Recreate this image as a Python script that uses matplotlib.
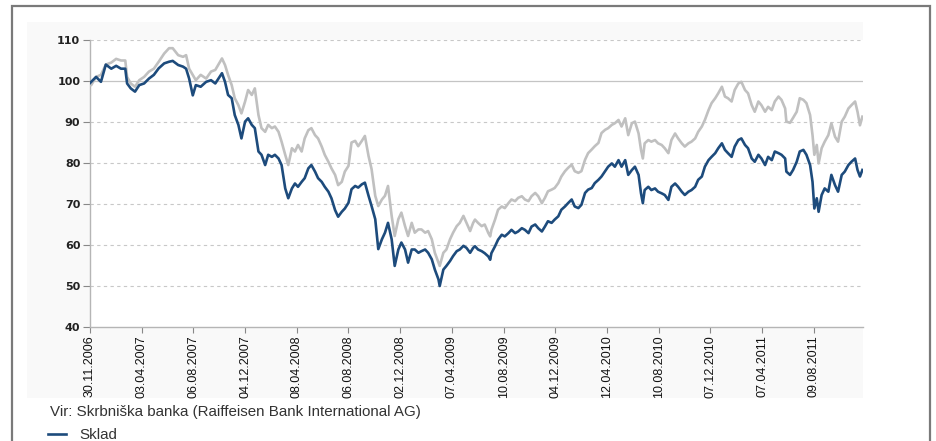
import matplotlib
matplotlib.use("Agg")
import matplotlib.pyplot as plt
from matplotlib.patches import Rectangle

plt.rcParams['font.family'] = ['Liberation Sans', 'DejaVu Sans']

# trading-day index of each observation (0 = 30.11.2006)
day = [0, 2, 10, 18, 26, 35, 43, 51, 58, 61, 67, 74, 81, 89, 97, 105, 113, 122, 130, 136,
       145, 153, 158, 163, 169, 174, 182, 191, 199,
       206, 217, 222, 227, 233, 238, 244, 249, 255, 260, 266, 271, 277, 282, 288, 293, 299,
       304, 310, 315, 321, 326, 332, 337, 342, 348, 353, 359, 364, 370, 375, 381, 386, 392,
       397, 403, 408, 414, 419,
       425, 430, 436, 441, 447, 452, 458, 463, 469, 474, 480, 485, 490, 496, 501, 507, 512,
       518, 523, 529, 534, 540, 545, 551, 556, 562, 567, 573, 575, 581, 586, 592, 597, 603,
       608, 614, 619, 625, 630,
       633, 638, 644, 649, 655, 658, 660, 666, 671, 677, 682, 688, 693, 699, 704, 710, 715,
       721, 726, 732, 737, 743, 748, 753, 759, 764, 770, 775, 781, 786, 792, 797, 803, 808,
       814, 819, 825, 830, 836, 841, 847,
       852, 858, 863, 869, 874, 880, 885, 891, 896, 902, 906, 909, 912, 918, 923, 929, 934,
       940, 945, 951, 956, 962, 967, 973, 978, 984, 989, 995, 1000, 1006, 1011, 1017, 1022,
       1028, 1033, 1039, 1044, 1049, 1055,
       1060, 1066, 1071, 1077, 1082, 1088, 1093, 1099, 1104, 1110, 1115, 1121, 1126, 1132,
       1137, 1143, 1145, 1151, 1156, 1162, 1167, 1173, 1178, 1184, 1188, 1191, 1195, 1198,
       1203, 1208, 1214, 1219, 1225, 1230, 1236, 1241, 1247, 1252, 1258, 1262, 1266, 1270]

# fund (Sklad)
fund = [99.5, 99.8, 101, 99.8, 104, 103, 103.7, 103, 103, 99.4, 98.2, 97.4, 99, 99.4, 100.6,
        101.5, 103.1, 104.3, 104.7, 104.9, 103.9, 103.5, 103, 100.6, 96.5, 99, 98.6, 99.8, 100.2,
        99.4, 101.9, 99.8, 96.6, 95.8, 91.7, 89.3, 86, 90.1, 90.9, 89.3, 88.5, 82.8, 82, 79.5,
        82, 81.5, 82, 81.1, 79.5, 73.8, 71.4, 73.8, 75, 74.2, 75.4, 76.3, 78.7, 79.5, 77.9,
        76.3, 75.4, 74.2, 73, 71.4, 68.5, 66.9, 68.1, 68.9,
        70.3, 73.6, 74.4, 74, 74.8, 75.2, 72, 69.5, 66.3, 59, 61.4, 63, 65.4, 61.4, 54.9, 58.9,
        60.6, 58.9, 55.7, 58.9, 58.9, 58.1, 58.5, 58.9, 58.1, 56.5, 54, 51.6, 50, 54, 54.9,
        56.1, 57.3, 58.5, 58.9, 59.8, 59.3, 58.1, 59.3,
        59.7, 58.9, 58.5, 58, 57.2, 56.4, 58, 59.7, 61.3, 62.5, 62.1, 62.9, 63.7, 62.9, 63.3,
        64.1, 63.7, 62.9, 64.5, 65, 64.1, 63.3, 64.5, 65.8, 65.4, 66.2, 67, 68.6, 69.4, 70.2,
        71.1, 69.4, 69, 69.8, 72.7, 73.5, 73.9, 75.1, 75.9, 76.7, 78,
        79.1, 79.9, 79.1, 80.7, 79.1, 80.7, 77.1, 78.3, 79.1, 77.1, 72.6, 70.2, 73.4, 74.2,
        73.4, 73.8, 73, 72.6, 72.2, 71, 74.2, 75, 74.2, 73, 72.2, 73, 73.4, 74.2, 75.9, 76.7,
        79.1, 80.7, 81.5, 82.4, 83.6, 84.8, 83.2, 82.4, 81.5,
        84, 85.6, 86, 84.4, 83.6, 81.1, 80.3, 82, 81.1, 79.5, 81.5, 80.7, 82.8, 82.4, 82, 81.1,
        77.9, 77.1, 78.3, 80.3, 82.8, 83.2, 82, 79.5, 75.4, 68.9, 71.4, 68.1, 72.2, 73.8, 73,
        77.1, 74.6, 73, 77.1, 77.9, 79.5, 80.3, 81.1, 78.3, 76.7, 78.3]

# benchmark (grey series)
bench = [99, 99, 101, 101.5, 104, 104.5, 105.4, 105, 105, 101, 99.4, 98.6, 100.2, 101, 102.3,
         103, 104.7, 106.7, 108, 108, 106.3, 105.9, 106.3, 103, 101.5, 100.2, 101.5, 100.6, 102.3,
         102.7, 105.5, 103.9, 101.5, 99, 95.8, 94.1, 92.1, 95, 97.8, 96.6, 98.2, 91.7, 88.5,
         87.6, 89.3, 88.5, 88.9, 87.6, 85.2, 82, 79.5, 83.6, 82.8, 84.4, 82.8, 86, 88, 88.5,
         86.8, 86, 84, 82, 80.3, 78.7, 77.1, 74.6, 75.4, 77.9,
         79.3, 85, 85.4, 84.1, 85.4, 86.6, 81.7, 78.5, 72, 69.5, 71.1, 72, 74.4, 67.1, 62.2,
         66.3, 67.9, 64.6, 62.2, 65.4, 63, 63.8, 63.8, 63, 63.4, 61.4, 58.1, 55.7, 54.9, 58.1,
         58.9, 61.4, 63, 64.6, 65.4, 67.1, 65.4, 63.4, 65.4,
         66.2, 65.4, 64.6, 65, 62.9, 62.1, 63.7, 66.2, 68.6, 69.4, 69, 70.2, 71.1, 70.7, 71.5,
         71.9, 71.1, 70.7, 71.9, 72.7, 71.9, 70.2, 71.5, 73.1, 73.5, 73.9, 75.1, 76.7, 78, 78.8,
         79.6, 78, 77.6, 78, 80.8, 82.4, 83.3, 84.1, 84.9, 87.3, 88.1,
         88.5, 89.3, 89.7, 90.5, 88.9, 90.9, 86.8, 89.7, 90.1, 87.2, 83.2, 81.1, 84.8, 85.6,
         85.2, 85.6, 84.8, 84.4, 83.6, 82.4, 85.6, 87.2, 86, 84.8, 84, 84.8, 85.2, 86, 87.6,
         88.9, 90.5, 92.9, 94.6, 95.8, 97, 98.6, 96.2, 95.8, 95,
         97.8, 99.4, 99.8, 97.8, 97, 94.1, 92.5, 95, 94.1, 92.5, 93.7, 92.9, 95, 96.2, 95.4,
         93.3, 90.1, 89.8, 91, 92.5, 95.8, 95.4, 94.6, 91.7, 86.8, 82, 84.4, 79.9, 83.6, 85.2,
         86.8, 89.7, 86.4, 85.2, 90.1, 91.3, 93.3, 94.1, 95, 92.5, 89.2, 91.3]

tick_days = [0, 85, 170, 255, 340, 425, 510, 595, 680, 765, 850, 935, 1020, 1105, 1190]
tick_labels = ['30.11.2006', '03.04.2007', '06.08.2007', '04.12.2007', '08.04.2008',
               '06.08.2008', '02.12.2008', '07.04.2009', '10.08.2009', '04.12.2009',
               '12.04.2010', '10.08.2010', '07.12.2010', '07.04.2011', '09.08.2011']
y_ticks = [40, 50, 60, 70, 80, 90, 100, 110]

W, H = 936, 441
fig = plt.figure(figsize=(W / 100, H / 100), dpi=100)
fig.patch.set_facecolor('white')

# outer frame and light panel
fig.patches.append(Rectangle((12 / W, -0.05), 918 / W, 1 - 6 / H + 0.05,
                             transform=fig.transFigure, facecolor='white',
                             edgecolor='#7a7a7a', linewidth=1.6, zorder=-2))
fig.patches.append(Rectangle((27 / W, 1 - 398 / H), (863 - 27) / W, (398 - 22) / H,
                             transform=fig.transFigure, facecolor='#f9f9f9',
                             edgecolor='none', zorder=-1))

ax = fig.add_axes([90 / W, 1 - 327 / H, (863 - 90) / W, (327 - 40) / H])
ax.set_zorder(2)
ax.set_facecolor('white')

ax.plot(day, bench, color='#c0c0c0', linewidth=1.9, solid_joinstyle='round', zorder=3)
fund_line, = ax.plot(day, fund, color='#1d4b7c', linewidth=1.9, solid_joinstyle='round',
                     zorder=4, label='Sklad')

ax.set_xlim(0, 1271)
ax.set_ylim(40, 110)
ax.set_yticks(y_ticks)
ax.set_yticklabels([str(v) for v in y_ticks], fontsize=8, fontweight='bold', color='#222222',
                   family='DejaVu Sans')
ax.set_xticks(tick_days)
ax.set_xticklabels(tick_labels, rotation=90, fontsize=9, color='#111111')

for v in y_ticks[1:]:
    if v == 100:
        ax.axhline(v, color='#c4c4c4', linewidth=0.9, zorder=1)
    else:
        ax.axhline(v, color='#c8c8c8', linewidth=0.8, linestyle=(0, (3, 3)), zorder=1)

for s in ['top', 'right']:
    ax.spines[s].set_visible(False)
for s in ['left', 'bottom']:
    ax.spines[s].set_color('#b5b5b5')
    ax.spines[s].set_linewidth(1.0)
ax.tick_params(axis='both', colors='#888888', length=4, width=0.8, pad=2)
ax.tick_params(axis='y', labelcolor='#222222', length=5, pad=2)
ax.tick_params(axis='x', labelcolor='#111111', length=4, pad=2)

fig.text(50 / W, 1 - 412 / H, 'Vir: Skrbniška banka (Raiffeisen Bank International AG)',
         fontsize=10.9, color='#333333', va='center', ha='left')
fig.legend(handles=[fund_line], labels=['Sklad'], loc='center left',
           bbox_to_anchor=(48 / W, 1 - 435 / H), frameon=False, fontsize=10.9,
           handlelength=1.2, handletextpad=0.9, labelcolor='#333333', borderaxespad=0,
           borderpad=0)

fig.savefig('out.png', dpi=100)
